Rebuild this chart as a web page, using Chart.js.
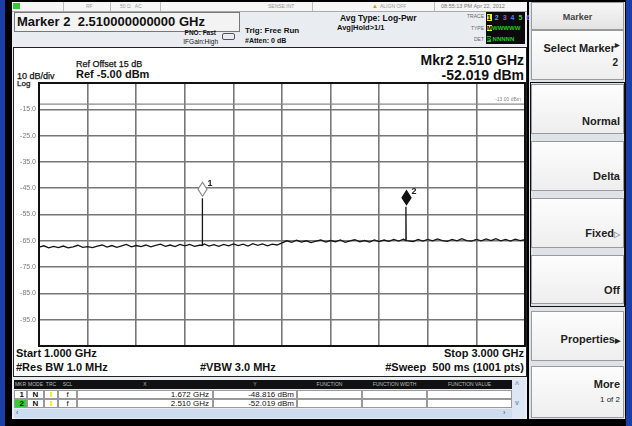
<!DOCTYPE html>
<html>
<head>
<meta charset="utf-8">
<script src="https://cdn.jsdelivr.net/npm/chart.js@4.4.1/dist/chart.umd.min.js"></script>
<style>
body{margin:0;width:632px;height:426px;background:#000;position:relative;overflow:hidden;font-family:"Liberation Sans",Arial,sans-serif;font-weight:bold;color:#111}
.a{position:absolute;white-space:nowrap;line-height:1}
.r{text-align:right}
.btn{position:absolute;left:531px;width:93px;background:linear-gradient(#fdfdfd,#eeeeee);border:1px solid #9a9a9a;box-sizing:border-box}
.btn span{position:absolute;right:3px;font-size:11px;line-height:1;color:#222}
#chart{position:absolute;left:0;top:0;z-index:2}
.th{position:absolute;top:380px;height:9px;font-size:5px;color:#bbb;line-height:9px;text-align:center;font-weight:normal}
.td{position:absolute;height:9px;border:1px solid #999;box-sizing:border-box;background:#fff;font-size:8px;line-height:8px}
</style>
</head>
<body>
<!-- outer frame -->
<div class="a" style="left:0;top:0;width:5px;height:426px;background:#1c3ea8"></div>
<div class="a" style="left:626px;top:0;width:6px;height:426px;background:#1c3ea8"></div>
<div class="a" style="left:12px;top:2px;width:515px;height:417px;background:#e9edf2"></div>

<!-- status bar -->
<div class="a" style="left:12px;top:2px;width:515px;height:9px;background:#f6f6f6;border-bottom:1px solid #aaa"></div>
<div class="a" style="left:13px;top:3px;width:7px;height:6px;background:#3c3"></div>
<div class="a" style="left:86px;top:4px;font-size:5px;color:#999;font-weight:normal">RF</div>
<div class="a" style="left:120px;top:4px;font-size:5px;color:#999;font-weight:normal">50 Ω&nbsp;&nbsp;&nbsp;AC</div>
<div class="a" style="left:268px;top:4px;font-size:5px;color:#999;font-weight:normal">SENSE:INT</div>
<div class="a" style="left:372px;top:3px;font-size:6px;color:#c90">▲</div>
<div class="a" style="left:380px;top:4px;font-size:5px;color:#999;font-weight:normal">ALIGN OFF</div>
<div class="a" style="left:441px;top:4px;font-size:5.5px;color:#777;font-weight:normal">08:55:13 PM Apr 22, 2012</div>
<div class="a" style="left:63px;top:2px;width:1px;height:9px;background:#bbb"></div>
<div class="a" style="left:110px;top:2px;width:1px;height:9px;background:#bbb"></div>
<div class="a" style="left:160px;top:2px;width:1px;height:9px;background:#bbb"></div>
<div class="a" style="left:312px;top:2px;width:1px;height:9px;background:#bbb"></div>
<div class="a" style="left:434px;top:2px;width:1px;height:9px;background:#bbb"></div>

<!-- header -->
<div class="a" style="left:14px;top:12px;width:224px;height:18px;background:#f3f3f3;border:1px solid #777"></div>
<div class="a" style="left:17px;top:15px;font-size:13px">Marker 2&nbsp; 2.510000000000 GHz</div>
<div class="a r" style="left:150px;width:66px;top:30px;font-size:6.5px">PNO: Fast</div>
<div class="a r" style="left:150px;width:68px;top:39px;font-size:6.5px;font-weight:normal">IFGain:High</div>
<div class="a" style="left:222px;top:33px;width:11px;height:5px;border:1px solid #555;border-radius:2px"></div>
<div class="a" style="left:245px;top:27px;font-size:8px">Trig: Free Run</div>
<div class="a" style="left:245px;top:37px;font-size:7px">#Atten: 0 dB</div>
<div class="a" style="left:340px;top:14px;font-size:8.5px">Avg Type: Log-Pwr</div>
<div class="a" style="left:337px;top:24px;font-size:7.5px">Avg|Hold&gt;1/1</div>
<div class="a r" style="left:450px;width:34px;top:14px;font-size:5px;color:#666;font-weight:normal">TRACE</div>
<div class="a r" style="left:450px;width:34px;top:26px;font-size:5px;color:#666;font-weight:normal">TYPE</div>
<div class="a r" style="left:450px;width:34px;top:37px;font-size:5px;color:#666;font-weight:normal">DET</div>
<div class="a" style="left:486px;top:12px;width:39px;height:32px;background:#0a0a0a"></div>
<div class="a" style="left:487px;top:14px;font-size:7px;letter-spacing:1px"><span style="background:#ee3;color:#000">1</span><span style="color:#4af"> 2 </span><span style="color:#c4c">3 </span><span style="color:#48f">4 </span><span style="color:#4c4">5 </span><span style="color:#66f">6</span></div>
<div class="a" style="left:487px;top:25px;font-size:6px;color:#2c2"><span style="background:#ee3;color:#000">M</span>WWWWW</div>
<div class="a" style="left:487px;top:36px;font-size:6px;color:#2c2"><span style="background:#2b2;color:#000">P</span> NNNNN</div>

<!-- white graph panel -->
<div class="a" style="left:13px;top:47px;width:512px;height:328px;background:#fff;border:1px solid #222"></div>
<div class="a" style="left:76px;top:60px;font-size:9px;font-weight:normal;-webkit-text-stroke:0.25px #111">Ref Offset 15 dB</div>
<div class="a" style="left:76px;top:69px;font-size:11px">Ref -5.00 dBm</div>
<div class="a" style="left:17px;top:72px;font-size:9px;font-weight:normal;-webkit-text-stroke:0.25px #111">10 dB/div</div>
<div class="a" style="left:17px;top:80px;font-size:8px;font-weight:normal;-webkit-text-stroke:0.25px #111">Log</div>
<div class="a r" id="mkrF" style="left:380px;width:144px;top:53px;font-size:14px"></div>
<div class="a r" id="mkrL" style="left:380px;width:144px;top:68px;font-size:14px"></div>
<div class="a" style="left:16px;top:348px;font-size:11px">Start 1.000 GHz</div>
<div class="a" style="left:16px;top:362px;font-size:11px">#Res BW 1.0 MHz</div>
<div class="a" style="left:200px;top:362px;font-size:11px">#VBW 3.0 MHz</div>
<div class="a r" style="left:380px;width:144px;top:348px;font-size:11px">Stop 3.000 GHz</div>
<div class="a r" style="left:350px;width:174px;top:362px;font-size:11px">#Sweep&nbsp; 500 ms (1001 pts)</div>

<!-- marker table -->
<div class="a" style="left:14px;top:380px;width:498px;height:9px;background:#111"></div>
<div class="th" style="left:14px;width:13px">MKR</div>
<div class="th" style="left:27px;width:17px">MODE</div>
<div class="th" style="left:44px;width:14px">TRC</div>
<div class="th" style="left:58px;width:19px">SCL</div>
<div class="th" style="left:77px;width:136px">X</div>
<div class="th" style="left:213px;width:84px">Y</div>
<div class="th" style="left:297px;width:65px">FUNCTION</div>
<div class="th" style="left:362px;width:65px">FUNCTION WIDTH</div>
<div class="th" style="left:427px;width:85px">FUNCTION VALUE</div>
<div id="rows"></div>
<div class="a" style="left:14px;top:409px;width:498px;height:9px;background:#cddcee"></div>
<div class="a" style="left:16px;top:409px;font-size:7px;color:#57a">&lsaquo;</div>
<div class="a" style="left:503px;top:409px;font-size:7px;color:#57a">&rsaquo;</div>
<div class="a" style="left:512px;top:380px;width:13px;height:38px;background:#dde6f2"></div>
<div class="a" style="left:515px;top:381px;font-size:7px;color:#79b">^</div>
<div class="a" style="left:515px;top:399px;font-size:7px;color:#79b">v</div>

<!-- softkeys -->
<div class="a" style="left:529px;top:2px;width:96px;height:417px;background:#dfe3e8"></div>
<div class="btn" style="top:2px;height:28px;background:linear-gradient(#f6f6f6,#e4e4e4)"><span style="right:0;left:0;text-align:center;top:10px;font-size:9px;color:#444">Marker</span></div>
<div class="btn" style="top:30px;height:50px"><span style="top:11px">Select Marker<sup style="font-size:6px">▶</sup></span><span style="top:27px;font-size:10px;right:5px">2</span></div>
<div class="a" style="left:530px;top:82px;width:93px;height:223px;border:1px solid #111"></div>
<div class="btn" style="top:84px;height:50px"><span style="top:31px">Normal</span></div>
<div class="btn" style="top:141px;height:50px"><span style="top:29px">Delta</span></div>
<div class="btn" style="top:198px;height:50px"><span style="top:29px">Fixed<span style="position:static;font-size:8px;color:#999">▷</span></span></div>
<div class="btn" style="top:255px;height:49px"><span style="top:29px">Off</span></div>
<div class="btn" style="top:311px;height:50px"><span style="top:22px">Properties<span style="position:static;font-size:7px">▶</span></span></div>
<div class="btn" style="top:366px;height:52px"><span style="top:12px">More</span><span style="top:29px;font-size:8px;font-weight:normal">1 of 2</span></div>

<canvas id="chart" width="632" height="426"></canvas>

<script>
// sweep setup
const startGHz = 1.0;
const stopGHz = 3.0;
const stepGHz = 0.02;
const refLevel = -5;
const bottomLevel = -105;
const dbPerDiv = 10;
const displayLine = -13;

// trace levels (dBm), one every 20 MHz
const noiseLevels = [
  -67.4, -66.9, -67.7, -67.1, -67.6, -67.0, -67.7, -67.3, -66.7, -67.5, -67.2,
  -67.6, -67.0, -66.6, -67.4, -66.8, -67.5, -66.9, -66.4, -67.3, -66.8,
  -67.2, -66.6, -67.3, -66.7, -66.3, -67.1, -66.6, -67.2, -66.4, -66.9,
  -66.4, -67.1, -66.7, -66.2, -67.0, -66.5, -67.1, -66.4, -66.9, -66.2,
  -66.8, -66.3, -67.0, -66.1, -66.7, -66.2, -66.9, -66.3, -66.6, -65.8,
  -65.0, -65.6, -64.8, -65.5, -65.0, -65.7, -65.1, -64.7, -65.5, -64.9,
  -65.4, -64.7, -65.6, -65.0, -64.6, -65.4, -64.9, -65.5, -64.7, -65.3,
  -64.7, -65.2, -64.5, -65.1, -64.4, -65.0, -65.3, -64.5, -65.1, -64.5,
  -65.0, -64.3, -64.9, -65.2, -64.5, -65.0, -64.2, -64.9, -65.1, -64.5,
  -65.0, -64.3, -64.9, -64.2, -65.0, -64.5, -65.1, -64.4, -64.9, -64.6
];

// markers
const markerNames = ["1", "2"];
const markerFreqs = [1.672, 2.510];
const markerLevels = [-48.816, -52.019];
const markerFoot = [-66.7, -64.9];
const activeMarker = 1;

// build trace
let trace = noiseLevels.map((v, i) => ({ x: startGHz + i * stepGHz, y: v }));
markerFreqs.forEach((f, i) => {
  trace.push({ x: f - 0.001, y: markerFoot[i] });
  trace.push({ x: f, y: markerLevels[i] });
  trace.push({ x: f + 0.001, y: markerFoot[i] });
});
trace.sort((a, b) => a.x - b.x);

// marker readouts
document.getElementById("mkrF").textContent = "Mkr2 " + markerFreqs[activeMarker].toFixed(3) + " GHz";
document.getElementById("mkrL").textContent = markerLevels[activeMarker].toFixed(3) + " dBm";

let rowsHtml = "";
markerNames.forEach((n, i) => {
  const top = 390 + i * 9;
  rowsHtml += `<div class="td" style="top:${top}px;left:14px;width:13px;text-align:right;padding-right:2px;${i === activeMarker ? "background:#3c3" : ""}">${n}</div>`;
  rowsHtml += `<div class="td" style="top:${top}px;left:27px;width:17px;text-align:center">N</div>`;
  rowsHtml += `<div class="td" style="top:${top}px;left:44px;width:14px"><div style="margin:1px auto;width:2px;height:5px;background:#ee3"></div></div>`;
  rowsHtml += `<div class="td" style="top:${top}px;left:58px;width:19px;text-align:center;font-weight:normal">f</div>`;
  rowsHtml += `<div class="td" style="top:${top}px;left:77px;width:136px;text-align:right;padding-right:3px;font-weight:normal">${markerFreqs[i].toFixed(3)} GHz</div>`;
  rowsHtml += `<div class="td" style="top:${top}px;left:213px;width:84px;text-align:right;padding-right:2px;font-weight:normal">${markerLevels[i].toFixed(3)} dBm</div>`;
  rowsHtml += `<div class="td" style="top:${top}px;left:297px;width:65px"></div>`;
  rowsHtml += `<div class="td" style="top:${top}px;left:362px;width:65px"></div>`;
  rowsHtml += `<div class="td" style="top:${top}px;left:427px;width:85px"></div>`;
});
document.getElementById("rows").innerHTML = rowsHtml;

// plot frame + markers
const framePlugin = {
  id: "frame",
  beforeDraw(c) {
    const a = c.chartArea;
    c.ctx.fillStyle = "#fff";
    c.ctx.fillRect(a.left, a.top, a.width, a.height);
  },
  afterDraw(c) {
    const a = c.chartArea;
    const ctx = c.ctx;
    ctx.strokeStyle = "#111";
    ctx.lineWidth = 2;
    ctx.strokeRect(a.left, a.top, a.width, a.height);
  }
};

const markerPlugin = {
  id: "markers",
  afterDatasetsDraw(c) {
    const ctx = c.ctx;
    const x = c.scales.x;
    const y = c.scales.y;
    ctx.save();
    markerFreqs.forEach((f, i) => {
      const px = Math.round(x.getPixelForValue(f)) + 0.5;
      const py = y.getPixelForValue(markerLevels[i]) - 2;
      ctx.beginPath();
      ctx.moveTo(px, py);
      ctx.lineTo(px + 4.5, py - 7);
      ctx.lineTo(px, py - 14);
      ctx.lineTo(px - 4.5, py - 7);
      ctx.closePath();
      ctx.fillStyle = i === activeMarker ? "#111" : "#fff";
      ctx.fill();
      ctx.strokeStyle = i === activeMarker ? "#111" : "#888";
      ctx.lineWidth = 1.2;
      ctx.stroke();
      ctx.fillStyle = "#222";
      ctx.font = "bold 9px 'Liberation Sans', Arial";
      ctx.textBaseline = "middle";
      ctx.textAlign = "left";
      ctx.fillText(markerNames[i], px + 5, py - 13);
    });
    // display line label
    ctx.fillStyle = "#888";
    ctx.font = "5px 'Liberation Sans', Arial";
    ctx.textAlign = "right";
    ctx.textBaseline = "bottom";
    ctx.fillText(displayLine.toFixed(2) + " dBm", c.chartArea.right - 4, y.getPixelForValue(displayLine) - 2);
    ctx.restore();
  }
};

const ctx = document.getElementById("chart").getContext("2d");
new Chart(ctx, {
  type: "line",
  data: {
    datasets: [
      {
        data: trace,
        borderColor: "#151515",
        borderWidth: 1.3,
        pointRadius: 0,
        tension: 0
      },
      {
        data: [{ x: startGHz, y: displayLine }, { x: stopGHz, y: displayLine }],
        borderColor: "#8a8a8a",
        borderWidth: 1.3,
        pointRadius: 0
      }
    ]
  },
  options: {
    responsive: false,
    animation: false,
    devicePixelRatio: 1,
    layout: { padding: { left: 0, top: 83, right: 107, bottom: 80 } },
    plugins: { legend: { display: false }, tooltip: { enabled: false } },
    scales: {
      x: {
        type: "linear",
        min: startGHz,
        max: stopGHz,
        ticks: { display: false, stepSize: 0.2 },
        grid: { color: "#777", lineWidth: 1.6, drawTicks: false },
        border: { color: "#111", width: 2 },
        afterFit(s) { s.height = 0; s.paddingLeft = 0; s.paddingRight = 0; }
      },
      y: {
        min: bottomLevel,
        max: refLevel,
        ticks: {
          stepSize: dbPerDiv,
          padding: 3,
          color: "#7a7a7a",
          font: { size: 7, family: "'Liberation Sans', Arial" },
          callback: (v) => (v === refLevel || v === bottomLevel ? "" : v.toFixed(1))
        },
        grid: { color: "#777", lineWidth: 1.6, drawTicks: false },
        border: { color: "#111", width: 2 },
        afterFit(s) { s.width = 39; s.paddingTop = 0; s.paddingBottom = 0; }
      }
    }
  },
  plugins: [framePlugin, markerPlugin]
});
</script>
</body>
</html>
